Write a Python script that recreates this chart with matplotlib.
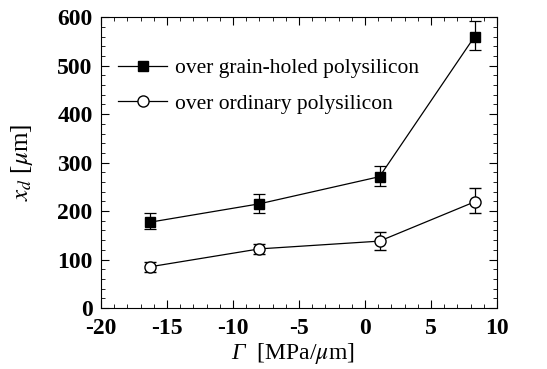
import matplotlib
matplotlib.use("Agg")
import matplotlib.pyplot as plt
from matplotlib.ticker import MultipleLocator
from matplotlib.offsetbox import TextArea, HPacker, AnchoredOffsetbox

gamma = [-16.3, -8.0, 1.1, 8.3]
grain_holed = [177, 215, 271, 560]
grain_holed_lo = [163, 197, 252, 533]
grain_holed_hi = [196, 235, 294, 592]
ordinary = [85, 122, 138, 219]
ordinary_lo = [75, 111, 120, 197]
ordinary_hi = [95, 133, 157, 247]

plt.rcParams['font.family'] = ['Liberation Serif', 'DejaVu Serif']
plt.rcParams['mathtext.fontset'] = 'stix'
plt.rcParams['axes.unicode_minus'] = False

fig = plt.figure(figsize=(5.47, 3.69), dpi=100)
ax = fig.add_axes([0.1846, 0.1653, 0.724, 0.788])

def err(v, lo, hi):
    return [[a - b for a, b in zip(v, lo)], [c - a for a, c in zip(v, hi)]]

ax.errorbar(gamma, grain_holed, yerr=err(grain_holed, grain_holed_lo, grain_holed_hi),
            fmt='-s', color='black', mfc='black', ms=7.5, lw=0.9, elinewidth=0.9,
            capsize=4, capthick=0.9, label='over grain-holed polysilicon')
ax.errorbar(gamma, ordinary, yerr=err(ordinary, ordinary_lo, ordinary_hi),
            fmt='-o', color='black', mfc='white', ms=8, lw=0.9, elinewidth=0.9,
            mew=1.0, capsize=4, capthick=0.9, label='over ordinary polysilicon')

ax.set_xlim(-20, 10)
ax.set_ylim(0, 600)
ax.xaxis.set_major_locator(MultipleLocator(5))
ax.xaxis.set_minor_locator(MultipleLocator(1))
ax.yaxis.set_major_locator(MultipleLocator(100))
ax.yaxis.set_minor_locator(MultipleLocator(20))
ax.tick_params(which='both', direction='in', top=True, right=True, labelsize=17)
ax.tick_params(axis='x', which='major', pad=7)
ax.tick_params(axis='y', which='major', pad=6)
ax.tick_params(which='major', length=6, width=0.8)
ax.tick_params(which='minor', length=3, width=0.6)
for lab in ax.get_xticklabels() + ax.get_yticklabels():
    lab.set_fontweight('bold')
for s in ax.spines.values():
    s.set_linewidth(0.8)

# x label: italic Gamma followed by upright unit
t1 = TextArea('Γ', textprops=dict(fontsize=17, style='italic'))
t2 = TextArea(r'  [MPa/$\mu$m]', textprops=dict(fontsize=17))
box = HPacker(children=[t1, t2], align='baseline', pad=0, sep=0)
anch = AnchoredOffsetbox(loc='upper center', child=box, bbox_to_anchor=(0.485, -0.115),
                         bbox_transform=ax.transAxes, frameon=False, pad=0, borderpad=0)
ax.add_artist(anch)

ax.set_ylabel(r'$x_d$ [$\mu$m]', fontsize=18, labelpad=16)

handles, labels = ax.get_legend_handles_labels()
handles = [h[0] for h in handles]
ax.legend(handles, labels, loc='upper left', bbox_to_anchor=(-0.005, 0.925),
          frameon=False, fontsize=15.5, handlelength=2.25, handletextpad=0.4,
          labelspacing=0.7)

fig.savefig('out.png', dpi=100)
